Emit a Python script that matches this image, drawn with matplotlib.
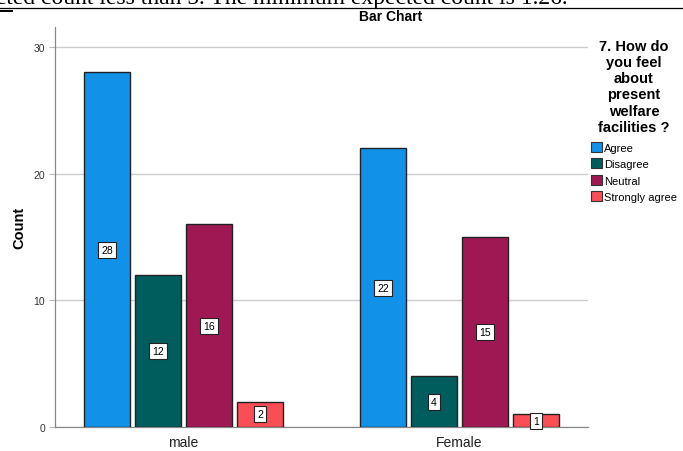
import numpy as np
import matplotlib
matplotlib.use('Agg')
import matplotlib.pyplot as plt
from matplotlib.patches import Patch

plt.rcParams['font.family'] = ['Liberation Sans', 'DejaVu Sans']

groups = ['male', 'Female']
categories = ['Agree', 'Disagree', 'Neutral', 'Strongly agree']
counts = {
    'Agree': [28, 22],
    'Disagree': [12, 4],
    'Neutral': [16, 15],
    'Strongly agree': [2, 1],
}
colors = ['#1192e8', '#005d5d', '#9f1853', '#fa4d56']

W, H = 683, 452
fig = plt.figure(figsize=(W / 100, H / 100), dpi=100)
fig.patch.set_facecolor('white')

# axes box in pixels: left 55, right 588, bottom y=428, top y=28
ax = fig.add_axes([55 / W, 1 - 428 / H, (588 - 55) / W, (428 - 28) / H])

x = np.arange(len(groups))
step = 51 / 276
width = 46 / 276
for i, cat in enumerate(categories):
    xs = x + (i - 1.5) * step
    vals = counts[cat]
    ax.bar(xs, vals, width=width, color=colors[i], edgecolor='#222222',
           linewidth=1.0, zorder=3)
    for xv, v in zip(xs, vals):
        ax.text(xv, v / 2, str(v), ha='center', va='center', fontsize=7.5,
                color='black', zorder=5,
                bbox=dict(boxstyle='square,pad=0.3', fc='white',
                          ec='#222222', lw=0.8))

ax.set_xlim(-0.4656, 1.4656)
ax.set_ylim(0, 30 * 400 / 380)
ax.set_yticks([0, 10, 20, 30])
ax.set_xticks(x)
ax.set_xticklabels(groups, fontsize=10, color='#222222')
ax.tick_params(axis='x', length=0, pad=6)
ax.tick_params(axis='y', length=4, width=0.8, color='#bbbbbb',
               labelsize=7.5, labelcolor='#333333', pad=3)
ax.yaxis.grid(True, color='#cccccc', linewidth=1.0, zorder=0)
for s in ['top', 'right']:
    ax.spines[s].set_visible(False)
for s in ['left', 'bottom']:
    ax.spines[s].set_color('#888888')
    ax.spines[s].set_linewidth(0.9)
ax.set_ylabel('Count', fontsize=10.5, fontweight='bold', labelpad=5)

fig.text(391 / W, 1 - 17 / H, 'Bar Chart', ha='center', va='center',
         fontsize=10, fontweight='bold')

# cropped note line from the source document
fig.text(568 / W, 1 - 4 / H,
         'cells (20.0%) have expected count less than 5. The minimum expected count is 1.26.',
         ha='right', va='baseline', fontsize=17, family='Liberation Serif')
fig.add_artist(plt.Line2D([0, 682 / W], [1 - 8.5 / H, 1 - 8.5 / H],
                          color='black', lw=0.9))
fig.add_artist(plt.Line2D([0, 12 / W], [1 - 11.5 / H, 1 - 11.5 / H],
                          color='black', lw=1.4))

handles = [Patch(facecolor=c, edgecolor='#333333', lw=0.8) for c in colors]
leg = fig.legend(handles, categories, loc='upper left',
                 bbox_to_anchor=(583 / W, 1 - 32 / H),
                 title='7. How do\nyou feel\nabout\npresent\nwelfare\nfacilities ?',
                 title_fontproperties={'weight': 'bold', 'size': 10.5},
                 fontsize=8, frameon=False, handlelength=1.0,
                 handleheight=1.0, handletextpad=0.2, labelspacing=0.5,
                 borderpad=0.2, alignment='center')
leg.get_title().set_multialignment('center')
leg.get_title().set_linespacing(1.2)
leg._legend_box.sep = 6

fig.savefig('out.png', dpi=100)
